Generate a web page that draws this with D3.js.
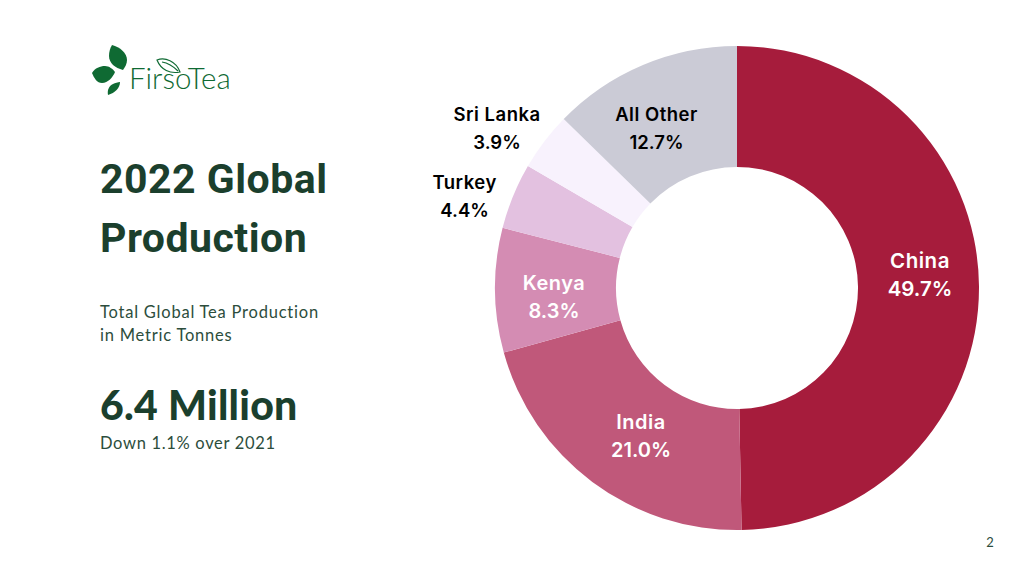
<!DOCTYPE html>
<html>
<head>
<meta charset="utf-8">
<script src="https://cdn.jsdelivr.net/npm/d3@7/dist/d3.min.js"></script>
<style>
html, body { margin: 0; padding: 0; background: #fff; overflow: hidden; }
svg { display: block; }
.slice-label { font-family: Inter, sans-serif; font-weight: 600; text-anchor: middle; }
</style>
</head>
<body>
<div id="chart"></div>
<script>
var width = 1024;
var height = 576;

var categories = ["China", "India", "Kenya", "Turkey", "Sri Lanka", "All Other"];
var shares = [49.7, 21.0, 8.3, 4.4, 3.9, 12.7];
var sliceColors = ["#a61c3c", "#c0587a", "#d48cb3", "#e3c1e0", "#f8f2fd", "#cbcbd6"];
var labelColors = ["#ffffff", "#ffffff", "#ffffff", "#000000", "#000000", "#000000"];
var labelSizes = [20.5, 20, 20, 18.5, 18.5, 18.5];
// shift of each label from its slice centroid, Turkey and Sri Lanka go outside the ring
var labelShifts = [[1.5, -11], [12.5, 3], [-1.5, 7], [-104.5, -23], [-95.5, -50], [-10, 7.5]];

var svg = d3.select("#chart").append("svg").attr("width", width).attr("height", height);

var pie = d3.pie().sort(null).value(function(d) { return d; });
var arc = d3.arc().innerRadius(121).outerRadius(242);
var slices = pie(shares);

var ring = svg.append("g").attr("transform", "translate(737,288)");
ring.selectAll("path").data(slices).enter().append("path")
	.attr("d", arc)
	.attr("fill", function(d, i) { return sliceColors[i]; });

var labels = ring.selectAll(".slice-label").data(slices).enter().append("text")
	.attr("class", "slice-label")
	.attr("fill", function(d, i) { return labelColors[i]; })
	.attr("font-size", function(d, i) { return labelSizes[i]; })
	.attr("transform", function(d, i) {
		var c = arc.centroid(d);
		return "translate(" + (c[0] + labelShifts[i][0]) + "," + (c[1] + labelShifts[i][1]) + ")";
	});
labels.append("tspan").attr("x", 0).attr("y", -7).attr("letter-spacing", 0.5)
	.text(function(d, i) { return categories[i]; });
labels.append("tspan").attr("x", 0).attr("y", 21).attr("letter-spacing", 0)
	.text(function(d, i) { return shares[i].toFixed(1) + "%"; });

// left column
function leftText(str, y, size, family, weight, spacing, color) {
	svg.append("text").attr("x", 100).attr("y", y)
		.attr("fill", color)
		.attr("font-family", family)
		.attr("font-size", size)
		.attr("font-weight", weight)
		.attr("letter-spacing", spacing)
		.text(str);
}
leftText("2022 Global", 193, 41, "Roboto", 700, 0.5, "#1b3f2d");
leftText("Production", 252, 41, "Roboto", 700, 0.5, "#1b3f2d");
leftText("Total Global Tea Production", 318, 16.5, "Lato", 400, 0.78, "#2c4d3c");
leftText("in Metric Tonnes", 341, 16.5, "Lato", 400, 0.78, "#2c4d3c");
leftText("6.4 Million", 420, 41, "Lato", 900, 0.25, "#1b3f2d");
leftText("Down 1.1% over 2021", 449, 16.5, "Lato", 400, 0.68, "#2c4d3c");

svg.append("text").attr("x", 990).attr("y", 547).attr("text-anchor", "middle")
	.attr("fill", "#2c4d3c").attr("font-family", "Lato").attr("font-size", 13).text("2");

// logo
var logo = svg.append("g").attr("fill", "#0f6a33");
logo.append("path").attr("d", "M112 45C120 47 127 53 127 60C127 64 125 67 123 70C115 68 109 63 109 56C109 52 110 48 112 45Z");
logo.append("path").attr("d", "M92 73C95 68 100 66 105 66C109 66 113 69 115 72C113 77 108 83 102 83C97 83 94 78 92 73Z");
logo.append("path").attr("d", "M120 82C120 88 115 93 108 95C107 90 109 86 113 84C115 83 118 82 120 82Z");
svg.append("text").attr("x", 129).attr("y", 89).attr("fill", "#0f6a33")
	.attr("font-family", "Lato").attr("font-weight", 300).attr("font-size", 29.5).text("FirsoTea");
logo.append("path").attr("d", "M157 60C165 57 176 61 180 72C170 74 161 70 157 60ZM162 62C168 63 174 67 178 71")
	.attr("fill", "none").attr("stroke", "#0f6a33").attr("stroke-width", 1.2);
</script>
</body>
</html>
